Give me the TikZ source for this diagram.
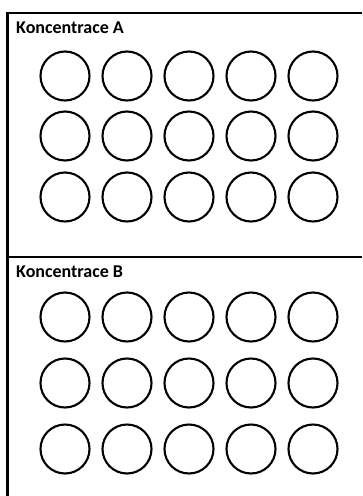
\documentclass[tikz,border=0pt]{standalone}
\usepackage{fontspec}
\setmainfont{Carlito}
\begin{document}
\begin{tikzpicture}[x=1pt, y=-1pt,
    well/.style={circle,draw,line width=2.1pt,minimum size=49pt,inner sep=0pt},
    title/.style={anchor=base west,inner sep=0pt,font=\fontsize{18}{20}\selectfont\bfseries}]
  \useasboundingbox (0,0) rectangle (362,496);
  % Frame and divider
  \draw[line width=2.3pt] (362,13) -- (7.5,13) -- (7.5,496);
  \draw[line width=2.3pt] (7.5,257) -- (362,257);

  % Panel A
  \node[title] (labA) at (16,33.5) {Koncentrace A};
  \node[well] (a11) at (65,76) {};  \node[well] (a12) at (127,76) {};  \node[well] (a13) at (189,76) {};  \node[well] (a14) at (251,76) {};  \node[well] (a15) at (313,76) {};
  \node[well] (a21) at (65,136) {}; \node[well] (a22) at (127,136) {}; \node[well] (a23) at (189,136) {}; \node[well] (a24) at (251,136) {}; \node[well] (a25) at (313,136) {};
  \node[well] (a31) at (65,197) {}; \node[well] (a32) at (127,197) {}; \node[well] (a33) at (189,197) {}; \node[well] (a34) at (251,197) {}; \node[well] (a35) at (313,197) {};

  % Panel B
  \node[title] (labB) at (16,277.5) {Koncentrace B};
  \node[well] (b11) at (65,317) {}; \node[well] (b12) at (127,317) {}; \node[well] (b13) at (189,317) {}; \node[well] (b14) at (251,317) {}; \node[well] (b15) at (313,317) {};
  \node[well] (b21) at (65,383) {}; \node[well] (b22) at (127,383) {}; \node[well] (b23) at (189,383) {}; \node[well] (b24) at (251,383) {}; \node[well] (b25) at (313,383) {};
  \node[well] (b31) at (65,449) {}; \node[well] (b32) at (127,449) {}; \node[well] (b33) at (189,449) {}; \node[well] (b34) at (251,449) {}; \node[well] (b35) at (313,449) {};
\end{tikzpicture}
\end{document}
